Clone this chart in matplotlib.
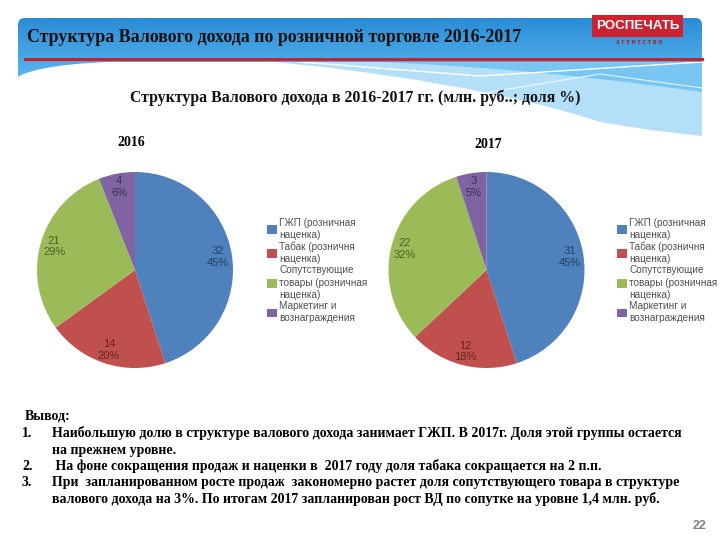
#!/usr/bin/env python3
# -*- coding: utf-8 -*-

"""
Слайд: структура валового дохода по розничной торговле 2016-2017
"""

import numpy as np
import matplotlib
matplotlib.use('Agg')
import matplotlib.pyplot as plt
from matplotlib.path import Path
from matplotlib.patches import PathPatch, Rectangle

# данные
categories = ['ГЖП (розничная\nнаценка)', 'Табак (розничня\nнаценка)',
              'Сопутствующие\nтовары (розничная\nнаценка)', 'Маркетинг и\nвознаграждения']
values_2016 = [32, 14, 21, 4]
shares_2016 = [45, 20, 29, 6]
values_2017 = [31, 12, 22, 3]
shares_2017 = [45, 18, 32, 5]

colors = ['#4F81BD', '#C0504D', '#9BBB59', '#8064A2']
label_colors = ['#243F60', '#632523', '#4F6228', '#3F3151']

title = 'Структура Валового дохода по розничной торговле 2016-2017'
subtitle = 'Структура Валового дохода в 2016-2017 гг. (млн. руб..; доля %)'
conclusions = [
    ('1.', 'Наибольшую долю в структуре валового дохода занимает ГЖП. В 2017г. Доля этой группы остается'),
    ('', 'на прежнем уровне.'),
    ('2.', ' На фоне сокращения продаж и наценки в  2017 году доля табака сокращается на 2 п.п.'),
    ('3.', 'При  запланированном росте продаж  закономерно растет доля сопутствующего товара в структуре'),
    ('', 'валового дохода на 3%. По итогам 2017 запланирован рост ВД по сопутке на уровне 1,4 млн. руб.'),
]

W, H = 720, 540
fig = plt.figure(figsize=(7.2, 5.4), dpi=100)
fig.patch.set_facecolor('white')

# фон в пиксельных координатах
bg = fig.add_axes([0, 0, 1, 1])
bg.set_xlim(0, W)
bg.set_ylim(H, 0)
bg.axis('off')

# светлые волны справа
wave = Path([(250, 60), (380, 70), (520, 95), (600, 122), (650, 130), (702, 136),
             (702, 60), (250, 60)],
            [Path.MOVETO, Path.CURVE4, Path.CURVE4, Path.CURVE4, Path.LINETO, Path.LINETO,
             Path.LINETO, Path.CLOSEPOLY])
bg.add_patch(PathPatch(wave, facecolor='#B3E0F8', edgecolor='none', zorder=1))
wave2 = Path([(330, 60), (450, 64), (560, 72), (702, 92), (702, 60), (330, 60)],
             [Path.MOVETO, Path.CURVE4, Path.CURVE4, Path.CURVE4, Path.LINETO, Path.CLOSEPOLY])
bg.add_patch(PathPatch(wave2, facecolor='#78C6F1', edgecolor='none', zorder=1))
bg.plot([300, 480, 702], [62, 76, 62], color='white', lw=1, zorder=2)
bg.plot([430, 600, 702], [102, 74, 88], color='white', lw=0.8, alpha=0.8, zorder=2)

# шапка с градиентом
r = 7
head = Path([(18, 77), (18, 18 + r), (18, 18), (18 + r, 18), (702 - r, 18), (702, 18),
             (702, 18 + r), (702, 62), (110, 62), (50, 64), (25, 72), (18, 77)],
            [Path.MOVETO, Path.LINETO, Path.CURVE3, Path.CURVE3, Path.LINETO, Path.CURVE3,
             Path.CURVE3, Path.LINETO, Path.LINETO, Path.CURVE4, Path.CURVE4, Path.CURVE4])
clip = PathPatch(head, facecolor='none', edgecolor='none', transform=bg.transData)
bg.add_patch(clip)
grad = np.linspace(0, 1, 100).reshape(-1, 1)
img = bg.imshow(grad, extent=(18, 702, 80, 18), origin='upper', aspect='auto',
                cmap=matplotlib.colors.LinearSegmentedColormap.from_list('h', ['#2A8CD6', '#5DB8EE']),
                zorder=3)
img.set_clip_path(clip)
bg.set_xlim(0, W)
bg.set_ylim(H, 0)

bg.plot([25, 702], [59, 59], color='#C8232C', lw=2.2, zorder=4)

bg.text(27, 37, title, fontsize=12.9, fontweight='bold', family='Liberation Serif',
        color='#111111', va='center', ha='left', zorder=5)

# логотип
bg.add_patch(Rectangle((592, 15), 91, 22, facecolor='#CF2230', edgecolor='none', zorder=5))
bg.text(637.5, 26, 'РОСПЕЧАТЬ', fontsize=9.6, fontweight='bold',
        family=['Liberation Sans Narrow', 'Liberation Sans'],
        color='white', ha='center', va='center', zorder=6)
bg.text(639, 42, 'А Г Е Н Т С Т В О', fontsize=3.5, fontweight='bold', family='DejaVu Sans',
        color='#B01E28', ha='center', va='center', zorder=6)

bg.text(355, 98, subtitle, fontsize=11.4, fontweight='bold', family='Liberation Serif',
        color='#111111', ha='center', va='center', zorder=5)
bg.text(131, 142, '2016', fontsize=10, fontweight='bold', family='Liberation Serif',
        ha='center', va='center', zorder=5)
bg.text(488, 145, '2017', fontsize=10, fontweight='bold', family='Liberation Serif',
        ha='center', va='center', zorder=5)


def draw_pie(cx, cy, rad, values, shares, legend_xy):
    ax = fig.add_axes([(cx - rad) / W, 1 - (cy + rad) / H, 2 * rad / W, 2 * rad / H])
    labels = [f'{v}\n{s}%' for v, s in zip(values, shares)]
    wedges, texts = ax.pie(shares, colors=colors, startangle=90, counterclock=False,
                           labels=labels, labeldistance=0.86,
                           textprops=dict(fontsize=8, family='Liberation Sans'))
    for t, c in zip(texts, label_colors):
        t.set_color(c)
        t.set_ha('center')
        t.set_va('center')
        t.set_multialignment('center')
    ax.set_xlim(-1, 1)
    ax.set_ylim(-1, 1)
    ax.set_aspect('equal')
    ax.axis('off')
    leg = ax.legend(wedges, categories, loc='upper left',
                    bbox_to_anchor=(legend_xy[0] / W, 1 - legend_xy[1] / H),
                    bbox_transform=fig.transFigure, frameon=False, borderpad=0,
                    labelspacing=0.1, handlelength=0.95, handleheight=0.95,
                    handletextpad=0.25, prop=dict(family='Liberation Sans', size=7.2))
    for t in leg.get_texts():
        t.set_color('#505050')
        t.set_linespacing(1.3)
    return ax


draw_pie(135, 270, 98, values_2016, shares_2016, (262, 213))
draw_pie(486.5, 270, 98, values_2017, shares_2017, (612, 213))

# выводы
bg.text(25, 419, 'Вывод:', fontsize=10, fontweight='bold', family='Liberation Serif',
        ha='left', va='baseline')
line_y = [437, 454, 470, 486, 503]
for (num, txt), y in zip(conclusions, line_y):
    if num:
        bg.text(22, y, num, fontsize=10, fontweight='bold', family='Liberation Serif',
                ha='left', va='baseline')
    bg.text(52, y, txt, fontsize=10, fontweight='bold', family='Liberation Serif',
            ha='left', va='baseline')

bg.text(706, 526, '22', fontsize=9, fontweight='bold', family='Liberation Sans',
        color='#7F7F7F', ha='right', va='center')

fig.savefig('out.png', dpi=100)
plt.close(fig)
